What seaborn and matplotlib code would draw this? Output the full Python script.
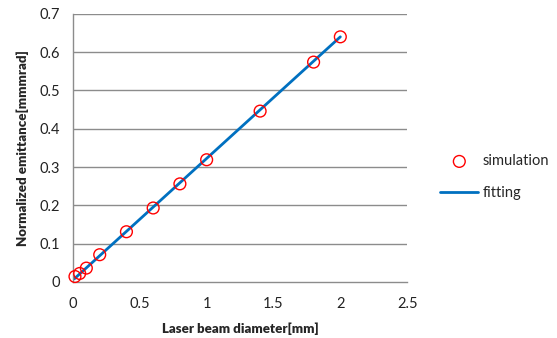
import matplotlib
matplotlib.use("Agg")
import matplotlib.pyplot as plt
import seaborn as sns
import pandas as pd

# === Data ===
sim_x = [0.015, 0.05, 0.1, 0.2, 0.4, 0.6, 0.8, 1.0, 1.4, 1.8, 2.0]
sim_y = [0.014, 0.022, 0.036, 0.071, 0.131, 0.193, 0.256, 0.319, 0.446, 0.574, 0.640]
fit_x = [0.01, 2.0]
fit_y = [0.008, 0.640]

x_ticks = [0, 0.5, 1, 1.5, 2, 2.5]
x_tick_labels = ["0", "0.5", "1", "1.5", "2", "2.5"]
y_ticks = [0, 0.1, 0.2, 0.3, 0.4, 0.5, 0.6, 0.7]
y_tick_labels = ["0", "0.1", "0.2", "0.3", "0.4", "0.5", "0.6", "0.7"]

sim = pd.DataFrame({"x": sim_x, "y": sim_y})
fit = pd.DataFrame({"x": fit_x, "y": fit_y})

sns.set_style("white")
plt.rcParams["font.family"] = ["Lato", "DejaVu Sans"]

fig = plt.figure(figsize=(5.57, 3.38), dpi=100)
ax = fig.add_axes([0.131, 0.166, 0.600, 0.793])

grid_col = "#8c8c8c"
for yv in y_ticks[1:]:
    ax.axhline(yv, color=grid_col, lw=1.0, zorder=0)

sns.lineplot(data=fit, x="x", y="y", ax=ax, color="#0070c0", lw=2.0,
             label="fitting", zorder=2)
sns.scatterplot(data=sim, x="x", y="y", ax=ax, marker="o", s=72,
                facecolor="none", edgecolor="#ff0000", linewidth=1.0,
                label="simulation", zorder=3, clip_on=False)

ax.set_xlim(0, 2.5)
ax.set_ylim(0, 0.7)
ax.set_xticks(x_ticks)
ax.set_xticklabels(x_tick_labels, fontsize=10.5)
ax.set_yticks(y_ticks)
ax.set_yticklabels(y_tick_labels, fontsize=10.5)
ax.tick_params(axis="both", direction="out", length=5, color=grid_col,
               width=1.0, pad=4, labelcolor="#222222")
ax.tick_params(axis="x", pad=6)

sns.despine(ax=ax, top=True, right=True)
for s in ["left", "bottom"]:
    ax.spines[s].set_color(grid_col)
    ax.spines[s].set_linewidth(1.0)

ax.set_xlabel("Laser beam diameter[mm]", fontsize=9.5, fontweight="heavy", labelpad=8)
ax.set_ylabel("Normalized emittance[mmmrad]", fontsize=9.5, fontweight="heavy", labelpad=8)

handles, labels = ax.get_legend_handles_labels()
order = [labels.index("simulation"), labels.index("fitting")]
ax.legend([handles[i] for i in order], [labels[i] for i in order],
          loc="center left", bbox_to_anchor=(1.06, 0.39), frameon=False,
          fontsize=10.5, handlelength=2.6, labelspacing=1.25, handletextpad=0.3)

fig.savefig("out.png", dpi=100)
plt.close(fig)
